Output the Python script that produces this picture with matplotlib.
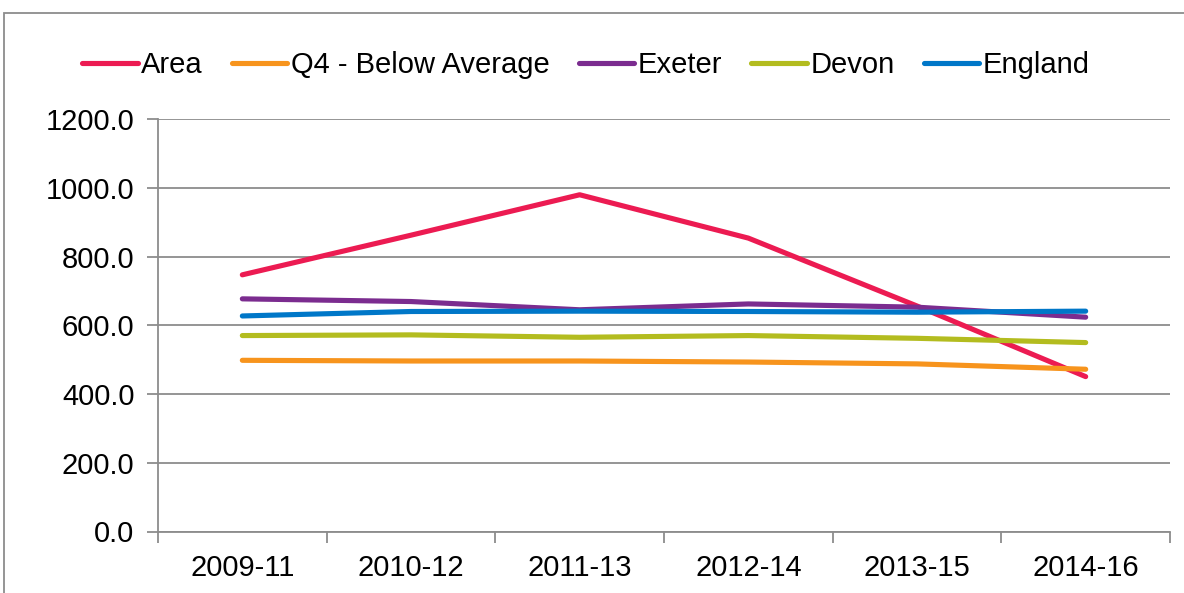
import numpy as np
import matplotlib.pyplot as plt
from matplotlib.patches import Rectangle

plt.rcParams['font.family'] = ['Liberation Sans', 'DejaVu Sans']

#%% Data
periods = ["2009-11", "2010-12", "2011-13", "2012-14", "2013-15", "2014-16"]
area = [746.7, 862.0, 979.6, 853.5, 656.0, 450.6]
q4_below_avg = [498.0, 496.0, 496.0, 493.0, 487.6, 472.0]
exeter = [676.8, 669.0, 645.0, 662.0, 652.6, 623.5]
devon = [570.0, 572.0, 565.0, 570.0, 562.0, 549.6]
england = [627.0, 640.0, 641.0, 640.0, 638.0, 641.0]

series = [("Area", area, "#EC1B52"),
          ("Q4 - Below Average", q4_below_avg, "#F7941D"),
          ("Exeter", exeter, "#7B2C8F"),
          ("Devon", devon, "#B3BC1F"),
          ("England", england, "#0077C8")]

#%% Plotting
fig = plt.figure(figsize=(11.84, 5.93), dpi=100)
ax = fig.add_axes([158/1184, 1 - 531.5/593, (1170 - 158)/1184, (531.5 - 119)/593])

x = np.arange(len(periods))
for name, vals, col in series:
    ax.plot(x, vals, color=col, lw=3.7, solid_capstyle='round', label=name)

grid_col = "#8C8C8C"
ax.set_xlim(-0.5, len(periods) - 0.5)
ax.set_ylim(0, 1200)
ax.set_yticks(np.arange(0, 1201, 200))
ax.set_yticklabels([f"{v:.1f}" for v in np.arange(0, 1201, 200)])
ax.set_xticks(x)
ax.set_xticklabels(periods)
ax.set_xticks(np.arange(-0.5, len(periods)), minor=True)
ax.tick_params(axis='x', which='major', length=0, pad=16, labelsize=21)
ax.tick_params(axis='x', which='minor', length=8, width=1.3, color=grid_col, direction='out')
ax.tick_params(axis='y', length=8, width=1.3, color=grid_col, pad=9, labelsize=21)
ax.yaxis.grid(True, color=grid_col, lw=1.3)
ax.set_axisbelow(True)
for side in ['top', 'right']:
    ax.spines[side].set_visible(False)
for side in ['left', 'bottom']:
    ax.spines[side].set_color(grid_col)
    ax.spines[side].set_linewidth(1.3)

fig.legend(loc='center', bbox_to_anchor=(586/1184, 1 - 65/593), ncol=5, frameon=False,
           fontsize=21, handlelength=1.9, handletextpad=0.12, columnspacing=1.0,
           borderaxespad=0)

# outer chart border
fig.patches.append(Rectangle((3.5/1184, -0.1), 1.2, 1.1 - 13/593, transform=fig.transFigure,
                             fill=False, edgecolor="#8C8C8C", lw=1.3))

plt.savefig("out.png", dpi=100)
